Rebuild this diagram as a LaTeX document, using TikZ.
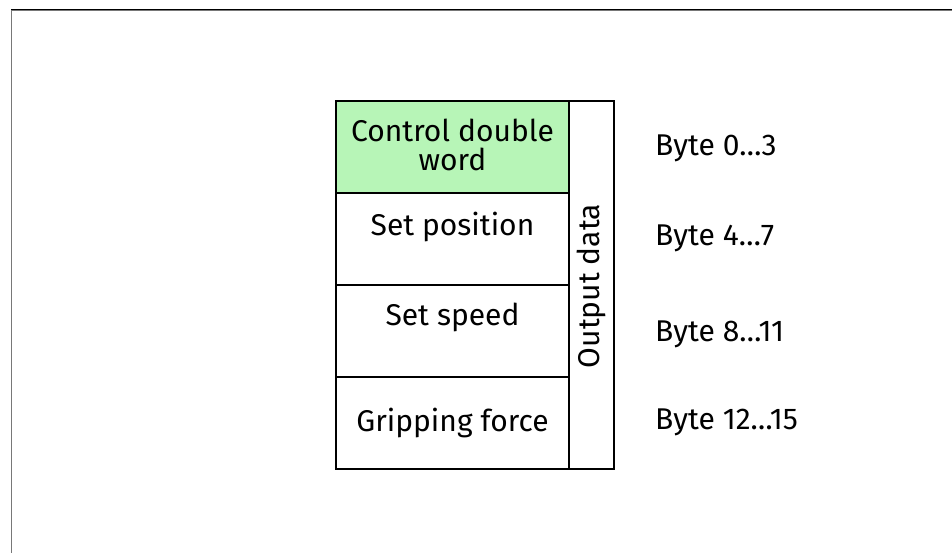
\documentclass[tikz,border=0pt]{standalone}
\usepackage{fontspec}
\setmainfont{Fira Sans}
\definecolor{cgreen}{RGB}{183,245,183}
\definecolor{framegray}{RGB}{120,120,120}
\begin{document}
\begin{tikzpicture}[x=1pt,y=-1pt,
  cell/.style={draw=black,line width=2pt,minimum width=233pt,minimum height=92pt,inner sep=0pt,outer sep=0pt,anchor=north west},
  txt/.style={font=\fontsize{30}{29}\selectfont,inner sep=0pt,align=center},
  bytelbl/.style={font=\fontsize{30}{29}\selectfont,inner sep=0pt,anchor=west}]
\useasboundingbox (0,0) rectangle (952,553);
% frame edges
\coordinate (ftl) at (11,9.5);
\coordinate (ftr) at (952,9.5);
\coordinate (fbl) at (11.5,553);
\draw[black,line width=1pt] (ftl) -- (ftr);
\draw[framegray,line width=1pt] (11,10.5) -- (952,10.5);
\draw[framegray,line width=1pt] (11.5,10) -- (fbl);
% cells
\node[cell,fill=cgreen] (r1) at (336,101) {};
\node[cell] (r2) at (336,193) {};
\node[cell] (r3) at (336,285) {};
\node[cell] (r4) at (336,377) {};
\node[draw=black,line width=2pt,minimum width=45pt,minimum height=368pt,inner sep=0pt,outer sep=0pt,anchor=north west] (od) at (569,101) {};
% texts
\node[txt] (t1) at (452.5,145) {Control double\\word};
\node[txt,anchor=north] (t2) at (452.5,211.5) {Set position};
\node[txt,anchor=north] (t3) at (452.5,303) {Set speed};
\node[txt] (t4) at (452.5,423) {Gripping force};
\node[txt,rotate=90] (tod) at (591.5,286) {Output data};
% byte labels
\node[bytelbl] (b1) at (655,148) {Byte 0…3};
\node[bytelbl] (b2) at (655,238) {Byte 4…7};
\node[bytelbl] (b3) at (655,334) {Byte 8…11};
\node[bytelbl] (b4) at (655,422) {Byte 12…15};
\end{tikzpicture}
\end{document}
